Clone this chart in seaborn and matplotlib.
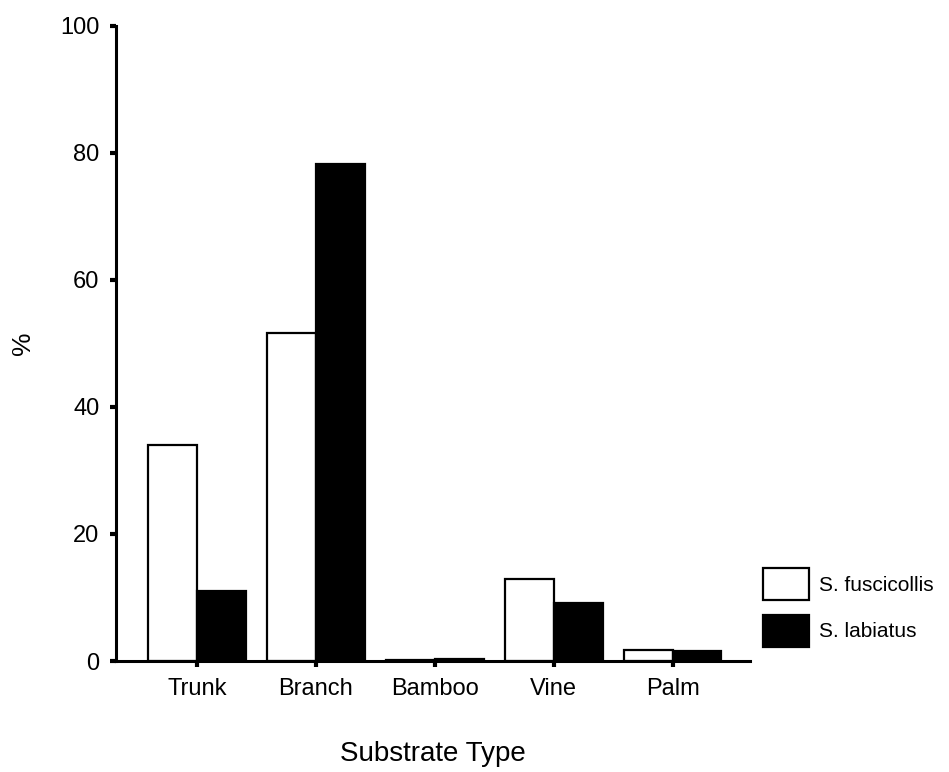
import matplotlib
matplotlib.use("Agg")
import matplotlib.pyplot as plt
import seaborn as sns
import pandas as pd

substrates = ["Trunk", "Branch", "Bamboo", "Vine", "Palm"]
species = ["S. fuscicollis", "S. labiatus"]
fuscicollis_pct = [34.0, 51.7, 0.2, 12.9, 1.7]
labiatus_pct = [11.0, 78.3, 0.3, 9.1, 1.5]
y_ticks = [0, 20, 40, 60, 80, 100]

df = pd.DataFrame({
    "Substrate": substrates * 2,
    "Species": [species[0]] * len(substrates) + [species[1]] * len(substrates),
    "Percent": fuscicollis_pct + labiatus_pct,
})

sns.set_theme(style="ticks")
plt.rcParams["font.family"] = ["Liberation Sans", "DejaVu Sans"]

W, H = 949, 772
fig = plt.figure(figsize=(W / 100, H / 100), dpi=100)
ax = fig.add_axes([116 / W, (H - 661) / H, (750 - 116) / W, (661 - 26) / H])

sns.barplot(
    data=df, x="Substrate", y="Percent", hue="Species",
    order=substrates, hue_order=species,
    palette={species[0]: "white", species[1]: "black"},
    edgecolor="black", linewidth=1.6, width=0.82, gap=0,
    ax=ax, legend=False,
)

ax.set_xlim(-0.68, 4.65)
ax.set_ylim(0, 100)
ax.set_yticks(y_ticks)
ax.set_xlabel("Substrate Type", fontsize=20, labelpad=30, color="black")
ax.set_ylabel("%", fontsize=19, labelpad=18, color="black")
ax.tick_params(axis="both", direction="out", length=4, width=3, color="black",
               labelsize=17, labelcolor="black")
ax.tick_params(axis="x", pad=8)
ax.tick_params(axis="y", pad=8)
for side in ["left", "bottom"]:
    ax.spines[side].set_linewidth(2.2)
    ax.spines[side].set_color("black")
sns.despine(ax=ax)

handles = [
    plt.Rectangle((0, 0), 1, 1, facecolor="white", edgecolor="black", linewidth=1.6),
    plt.Rectangle((0, 0), 1, 1, facecolor="black", edgecolor="black", linewidth=1.6),
]
fig.legend(
    handles, species, loc="upper left",
    bbox_to_anchor=(763 / W, 1 - 568 / H), bbox_transform=fig.transFigure,
    frameon=False, fontsize=15, borderpad=0, borderaxespad=0,
    handlelength=2.2, handleheight=2.0, handletextpad=0.5, labelspacing=0.7,
    labelcolor="black",
)

fig.savefig("out.png", dpi=100)
